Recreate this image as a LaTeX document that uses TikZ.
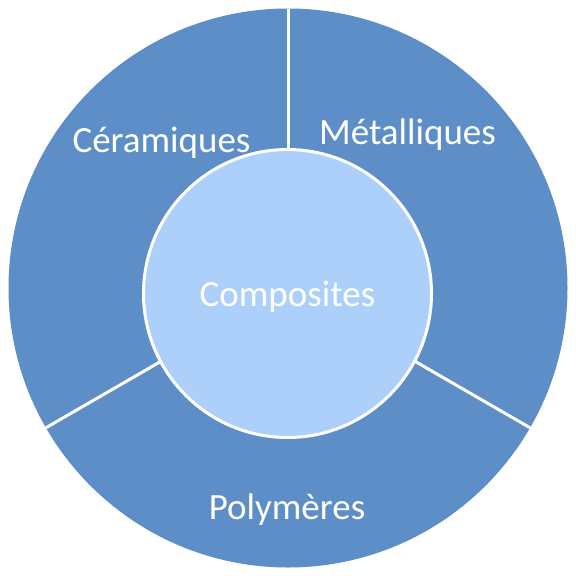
\documentclass[tikz,border=0pt]{standalone}
\usepackage{fontspec}
\setmainfont{Carlito}
\definecolor{ringblue}{RGB}{94,142,199}
\definecolor{coreblue}{RGB}{173,208,250}
\begin{document}
\begin{tikzpicture}[x=1pt,y=-1pt,
  ring/.style={circle,fill=ringblue,minimum size=559pt,inner sep=0pt,outer sep=0pt},
  core/.style={circle,fill=coreblue,draw=white,line width=3pt,minimum size=288pt,inner sep=0pt,outer sep=0pt},
  sep/.style={draw=white,line width=3pt},
  lbl/.style={text=white,font=\fontsize{37}{40}\selectfont,anchor=base,inner sep=0pt}]
\useasboundingbox (0,0) rectangle (576,576);
\node[ring] (outer) at (288,288) {};
\draw[sep] (outer.center) -- (outer.90);
\draw[sep] (outer.center) -- (outer.-30);
\draw[sep] (outer.center) -- (outer.210);
\node[core] (inner) at (287.5,293.5) {};
\node[lbl] (cer) at (161.5,152) {Céramiques};
\node[lbl] (met) at (407.5,144) {Métalliques};
\node[lbl] (com) at (287.5,306) {Composites};
\node[lbl] (pol) at (287,519.5) {Polymères};
\end{tikzpicture}
\end{document}
